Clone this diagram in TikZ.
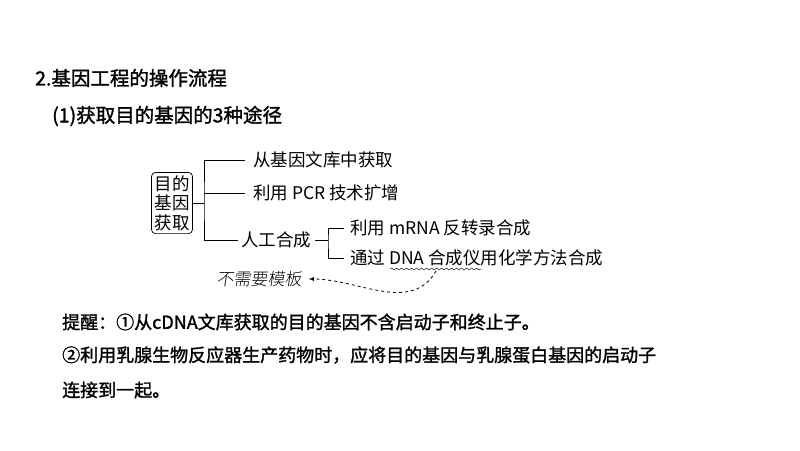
\documentclass[tikz,border=0pt]{standalone}
\usepackage{fontspec}
\setmainfont{Liberation Serif}
\newfontfamily\cjk{Noto Sans CJK SC}
\newfontfamily\cjkb{Noto Sans CJK SC}[FakeBold=1.5]
\newfontfamily\cjkl{Noto Sans CJK SC Light}
\usetikzlibrary{positioning,decorations.pathmorphing}
\begin{document}
\begin{tikzpicture}[
    x=1pt, y=-1pt,
    >=latex,
    every node/.style={inner sep=0pt, font=\cjk\fontsize{17.5}{19.5}\selectfont},
    title/.style={anchor=west, font=\cjkb\fontsize{18}{20}\selectfont},
    item/.style={anchor=west},
    branch/.style={line width=0.7pt}
    ]
    \useasboundingbox (0,0) rectangle (800,450);

    % headings
    \node [title, font=\cjkb\fontsize{19.5}{21}\selectfont] (head) at (35,78) {2.基因工程的操作流程};
    \node [title, font=\cjkb\fontsize{19.5}{21}\selectfont] (sub) at (52,116) {(1)获取目的基因的3种途径};

    % main bracket
    \node [draw, rounded corners=4pt, inner sep=3pt, align=center, line width=0.7pt] (root) at (172,203) {目的\\基因\\获取};
    \node [item] (lib) at (253,160) {从基因文库中获取};
    \node [item] (pcr) at (253,193) {利用 PCR 技术扩增};
    \node [item] (art) at (241,240) {人工合成};
    \coordinate (fork) at (204,203);
    \draw [branch] (root.east) -- (fork);
    \draw [branch] (lib.west) ++(-8,0) -| (fork) |- ([xshift=-3pt]art.west);
    \draw [branch] (fork |- pcr) -- ([xshift=-8pt]pcr.west);

    % second bracket
    \node [item] (mrna) at (350,228) {利用 mRNA 反转录合成};
    \node [item] (chem) at (350,258) {通过 DNA 合成仪用化学方法合成};
    \coordinate (fork2) at (328,240);
    \draw [branch] ([xshift=4pt]art.east) -- (fork2);
    \draw [branch] ([xshift=-6pt]mrna.west) -| (fork2) |- ([xshift=-6pt]chem.west);

    % note
    \draw [decorate, decoration={snake, amplitude=1pt, segment length=5pt}] (390,269) -- (482,269);
    \node [font=\cjkl\fontsize{17}{19}\selectfont, xslant=0.15] (note) at (260,279) {不需要模板};
    \draw [->, dashed, thick] (436,271) to[out=-120, in=0] ([xshift=6pt]note.east);

    % reminder
    \node [title] (tip1) at (62,322) {提醒：①从cDNA文库获取的目的基因不含启动子和终止子。};
    \node [title] (tip2) at (62,355) {②利用乳腺生物反应器生产药物时，应将目的基因与乳腺蛋白基因的启动子};
    \node [title] (tip3) at (62,390) {连接到一起。};
\end{tikzpicture}
\end{document}
